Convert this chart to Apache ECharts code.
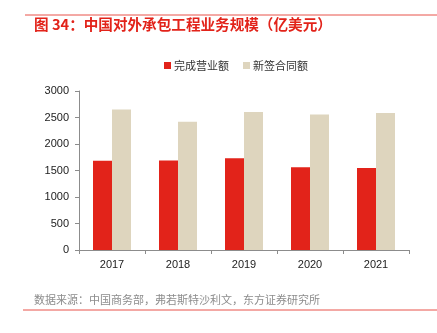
<!DOCTYPE html>
<html><head><meta charset="utf-8">
<script src="https://cdn.jsdelivr.net/npm/echarts@6/dist/echarts.min.js"></script>
<style>html,body{margin:0;padding:0;background:#fff}#c{width:437px;height:333px}</style>
</head><body><div id="c"></div>
<script>
const categories = ['2017','2018','2019','2020','2021'];
const completed = [1686, 1690, 1729, 1559, 1549];
const signed = [2653, 2418, 2603, 2555, 2585];
const yTicks = [0, 500, 1000, 1500, 2000, 2500, 3000];
const seriesNames = ['完成营业额', '新签合同额'];
const titleText = '图 34：中国对外承包工程业务规模（亿美元）';
const sourceText = '数据来源：中国商务部，弗若斯特沙利文，东方证券研究所';

const font = '"Noto Sans CJK SC", "Liberation Sans", Arial, sans-serif';
const chart = echarts.init(document.getElementById('c'));
chart.setOption({
  animation: false,
  textStyle: { fontFamily: font },
  graphic: [
    { type: 'line', shape: { x1: 25, y1: 15, x2: 437, y2: 15 }, style: { stroke: '#E8534A', lineWidth: 1 } },
    { type: 'text', left: 34, top: 17, style: { text: titleText, fill: '#E2231A', font: 'bold 14.6px ' + font } },
    { type: 'text', left: 34, top: 294, style: { text: sourceText, fill: '#8c8c8c', font: '11px ' + font } },
    { type: 'line', shape: { x1: 23, y1: 310, x2: 437, y2: 310 }, style: { stroke: '#E8534A', lineWidth: 1 } }
  ],
  legend: {
    top: 55, left: 159,
    itemWidth: 7, itemHeight: 7, itemGap: 14,
    icon: 'rect',
    textStyle: { fontSize: 11, color: '#333', padding: [0, 0, 0, -2] },
    data: seriesNames
  },
  grid: { left: 79, right: 28, top: 91, bottom: 83 },
  xAxis: {
    type: 'category', data: categories,
    axisLine: { lineStyle: { color: '#8c8c8c' } },
    axisTick: { show: true, length: 4, lineStyle: { color: '#8c8c8c' } },
    axisLabel: { color: '#222', fontSize: 11, margin: 9, fontFamily: 'Liberation Sans' }
  },
  yAxis: {
    type: 'value', min: yTicks[0], max: yTicks[yTicks.length - 1], interval: 500,
    axisLine: { show: true, lineStyle: { color: '#8c8c8c' } },
    axisTick: { show: true, length: 4, lineStyle: { color: '#8c8c8c' } },
    splitLine: { show: false },
    axisLabel: { color: '#222', fontSize: 11, margin: 10, fontFamily: 'Liberation Sans', formatter: v => String(v) }
  },
  series: [
    { name: seriesNames[0], type: 'bar', data: completed, barWidth: 19, barGap: '0%', itemStyle: { color: '#E2231A' } },
    { name: seriesNames[1], type: 'bar', data: signed, barWidth: 19, barGap: '0%', itemStyle: { color: '#DED5BE' } }
  ]
});
</script></body></html>
